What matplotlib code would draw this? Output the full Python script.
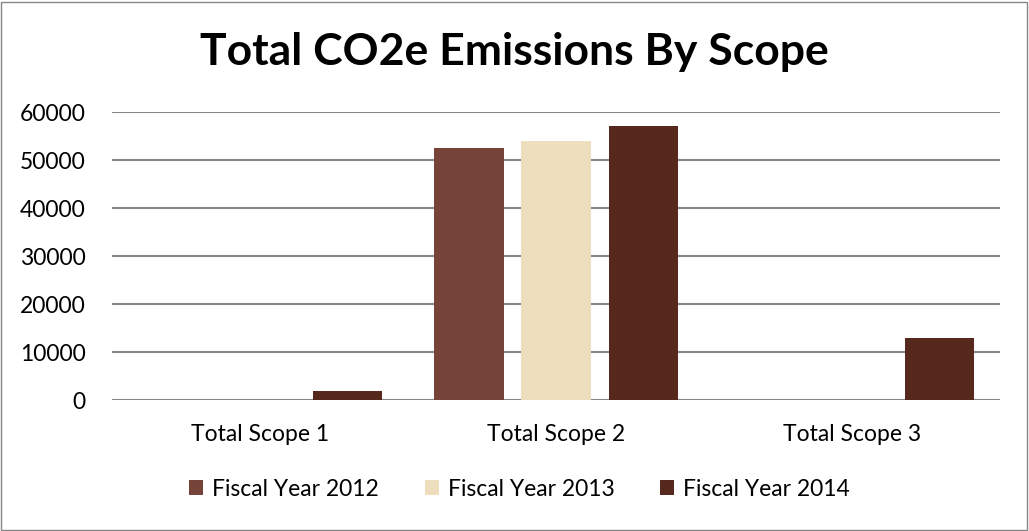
import numpy as np
import matplotlib.pyplot as plt
from matplotlib.patches import Rectangle

plt.rcParams['font.family'] = ['Lato', 'DejaVu Sans']

####################### data #######################
categories = ["Total Scope 1", "Total Scope 2", "Total Scope 3"]
series_names = ["Fiscal Year 2012", "Fiscal Year 2013", "Fiscal Year 2014"]
fy2012 = [0, 52500, 0]
fy2013 = [0, 54000, 0]
fy2014 = [1900, 57000, 13000]
colors = ["#754337", "#EFDEBD", "#56281E"]
yticks = [0, 10000, 20000, 30000, 40000, 50000, 60000]
####################################################

fig = plt.figure(figsize=(10.29, 5.31), dpi=100)
ax = fig.add_axes([0.109, 0.2467, 0.863, 0.5423])

x = np.arange(len(categories))
w = 0.236
step = 0.295
for i, (vals, name) in enumerate(zip([fy2012, fy2013, fy2014], series_names)):
    ax.bar(x + (i - 1) * step, vals, w, color=colors[i], label=name, zorder=3)

ax.set_xlim(-0.5, 2.5)
ax.set_ylim(0, 60000)
ax.set_yticks(yticks)
ax.set_yticklabels([str(t) for t in yticks], fontsize=16.5)
ax.set_xticks(x)
ax.set_xticklabels(categories, fontsize=16.5)
ax.tick_params(length=0)
ax.tick_params(axis='y', pad=19)
ax.tick_params(axis='x', pad=17)
ax.grid(axis='y', color='#868686', lw=1.5, zorder=0)
for s in ax.spines.values():
    s.set_visible(False)

fig.text(0.5, 0.902, "Total CO2e Emissions By Scope", fontsize=32, fontweight='bold',
         ha='center', va='center')

fig.legend(loc='lower center', bbox_to_anchor=(0.505, 0.02), ncol=3, frameon=False,
           fontsize=16.5, handlelength=0.6, handleheight=0.6, columnspacing=2.0, handletextpad=0.4)

# outer border
fig.patches.append(Rectangle((0.001, 0.002), 0.997, 0.995, transform=fig.transFigure,
                             fill=False, edgecolor='#868686', lw=1))

fig.savefig("out.png", dpi=100)
